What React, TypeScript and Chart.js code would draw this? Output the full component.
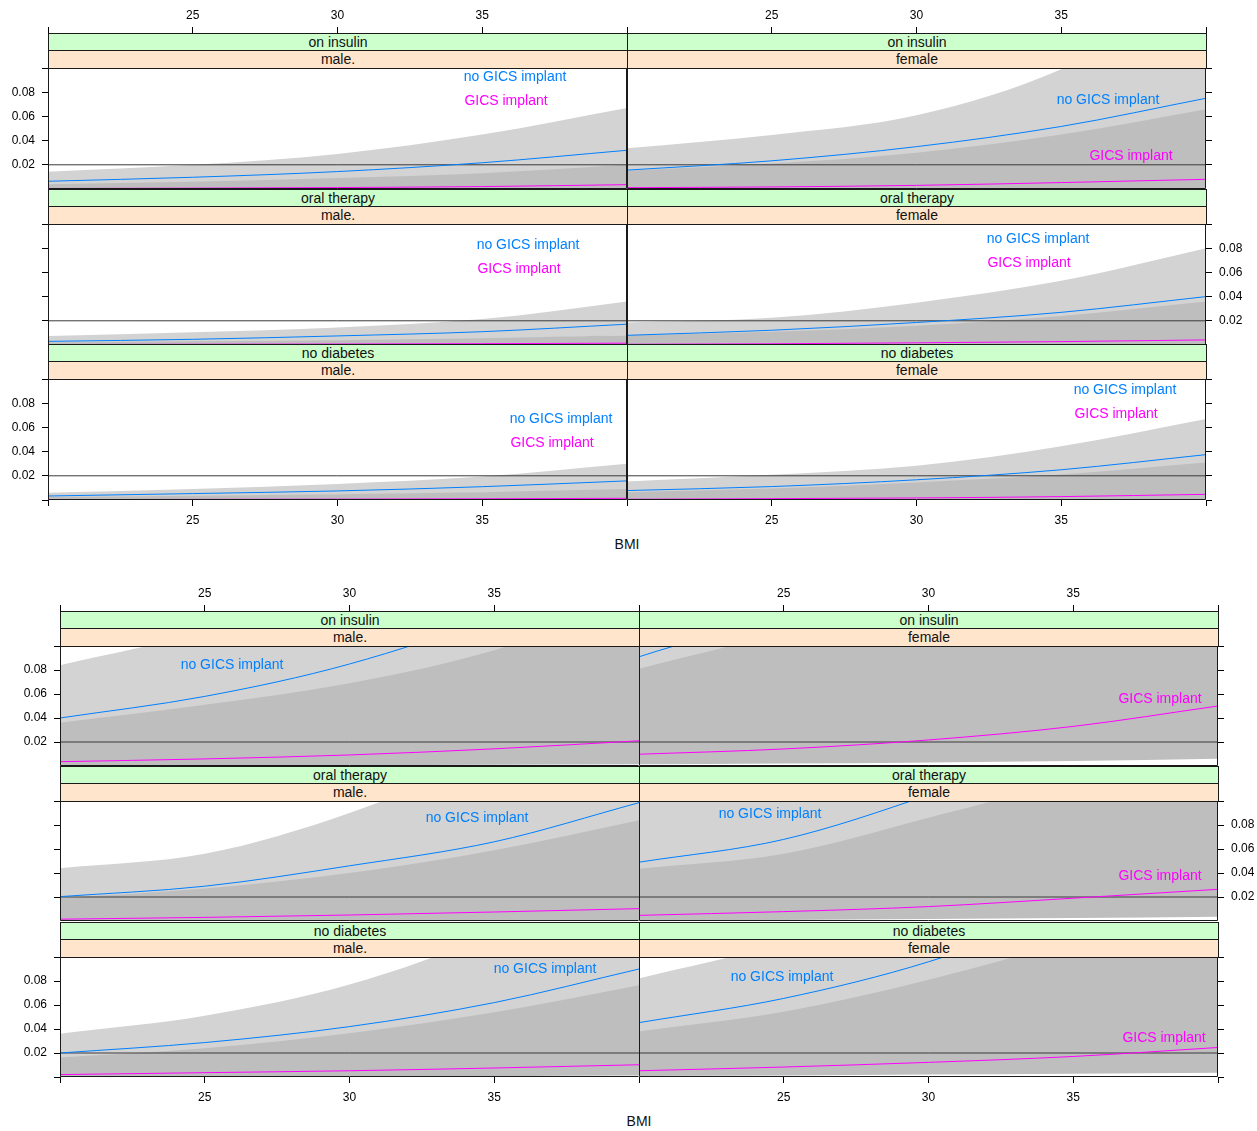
import React, { useEffect, useRef } from 'react';
import { Chart, registerables } from 'chart.js';
Chart.register(...registerables);

// ---------------- data ----------------
const BMI = [20, 25, 30, 35, 40];
const X_TICKS = [20, 25, 30, 35, 40];
const X_LABELLED = [25, 30, 35];
const Y_TICKS = [0, 0.02, 0.04, 0.06, 0.08, 0.1];
const Y_LABELLED = [0.02, 0.04, 0.06, 0.08];
const REF_LEVEL = 0.02;
const X_MIN = 20;
const X_MAX = 40;
const Y_PANEL_MAX = 0.1;
const TREATMENTS = ['on insulin', 'oral therapy', 'no diabetes'];
const SEXES = ['male.', 'female'];
const SERIES = ['no GICS implant', 'GICS implant'];
const X_TITLE = 'BMI';

// top figure
const T_INS_M_NO = [0.0064, 0.0097, 0.0144, 0.0217, 0.032];
const T_INS_M_NO_LO = [0.003, 0.0048, 0.0072, 0.0105, 0.0152];
const T_INS_M_NO_HI = [0.0142, 0.02, 0.029, 0.045, 0.067];
const T_INS_M_G = [0.0004, 0.0007, 0.0012, 0.002, 0.0036];
const T_INS_M_G_LO = [0.0001, 0.0001, 0.0002, 0.0003, 0.0005];
const T_INS_M_G_HI = [0.004, 0.006, 0.009, 0.013, 0.02];

const T_INS_F_NO = [0.0156, 0.0233, 0.035, 0.0517, 0.075];
const T_INS_F_NO_LO = [0.007, 0.011, 0.018, 0.027, 0.034];
const T_INS_F_NO_HI = [0.0336, 0.0447, 0.061, 0.099, 0.165];
const T_INS_F_G = [0.0011, 0.0017, 0.003, 0.0053, 0.008];
const T_INS_F_G_LO = [0.0001, 0.0001, 0.0002, 0.0004, 0.0008];
const T_INS_F_G_HI = [0.015, 0.021, 0.03, 0.045, 0.066];

const T_ORL_M_NO = [0.003, 0.0047, 0.0075, 0.011, 0.0172];
const T_ORL_M_NO_LO = [0.0012, 0.002, 0.0035, 0.005, 0.008];
const T_ORL_M_NO_HI = [0.0075, 0.0105, 0.0145, 0.0214, 0.036];
const T_ORL_M_G = [0.0004, 0.0006, 0.0008, 0.0011, 0.0015];
const T_ORL_M_G_LO = [0.00005, 0.0001, 0.0001, 0.0002, 0.0003];
const T_ORL_M_G_HI = [0.002, 0.003, 0.004, 0.0055, 0.008];

const T_ORL_F_NO = [0.008, 0.0122, 0.0186, 0.027, 0.04];
const T_ORL_F_NO_LO = [0.0035, 0.0065, 0.0098, 0.0137, 0.02];
const T_ORL_F_NO_HI = [0.0186, 0.0225, 0.035, 0.053, 0.08];
const T_ORL_F_G = [0.0006, 0.001, 0.0018, 0.0028, 0.0042];
const T_ORL_F_G_LO = [0.00005, 0.0001, 0.0002, 0.0003, 0.0005];
const T_ORL_F_G_HI = [0.008, 0.011, 0.016, 0.024, 0.036];

const T_NOD_M_NO = [0.0033, 0.0053, 0.0075, 0.011, 0.0158];
const T_NOD_M_NO_LO = [0.0018, 0.003, 0.0043, 0.006, 0.008];
const T_NOD_M_NO_HI = [0.006, 0.009, 0.0133, 0.0194, 0.03];
const T_NOD_M_G = [0.0003, 0.0005, 0.0007, 0.001, 0.0014];
const T_NOD_M_G_LO = [0.00003, 0.00005, 0.0001, 0.00015, 0.0002];
const T_NOD_M_G_HI = [0.0025, 0.0035, 0.0048, 0.0065, 0.009];

const T_NOD_F_NO = [0.0078, 0.0111, 0.0167, 0.025, 0.0375];
const T_NOD_F_NO_LO = [0.004, 0.006, 0.0095, 0.014, 0.021];
const T_NOD_F_NO_HI = [0.0153, 0.0208, 0.0283, 0.0444, 0.067];
const T_NOD_F_G = [0.0006, 0.0011, 0.0017, 0.0028, 0.0047];
const T_NOD_F_G_LO = [0.00005, 0.0001, 0.0002, 0.0003, 0.0005];
const T_NOD_F_G_HI = [0.0065, 0.0095, 0.0145, 0.021, 0.031];

// bottom figure
const B_INS_M_NO = [0.04, 0.058, 0.085, 0.125, 0.18];
const B_INS_M_NO_LO = [0.019, 0.029, 0.045, 0.068, 0.1];
const B_INS_M_NO_HI = [0.084, 0.113, 0.16, 0.23, 0.33];
const B_INS_M_G = [0.0036, 0.0059, 0.0092, 0.0143, 0.021];
const B_INS_M_G_LO = [0.0003, 0.0005, 0.0007, 0.001, 0.0015];
const B_INS_M_G_HI = [0.036, 0.051, 0.069, 0.0965, 0.14];

const B_INS_F_NO = [0.091, 0.13, 0.19, 0.27, 0.38];
const B_INS_F_NO_LO = [0.05, 0.075, 0.11, 0.16, 0.23];
const B_INS_F_NO_HI = [0.16, 0.22, 0.3, 0.42, 0.6];
const B_INS_F_G = [0.0098, 0.0142, 0.0217, 0.033, 0.05];
const B_INS_F_G_LO = [0.0014, 0.002, 0.003, 0.0042, 0.006];
const B_INS_F_G_HI = [0.081, 0.112, 0.15, 0.2, 0.28];

const B_ORL_M_NO = [0.0203, 0.029, 0.046, 0.066, 0.0986];
const B_ORL_M_NO_LO = [0.009, 0.014, 0.023, 0.034, 0.05];
const B_ORL_M_NO_HI = [0.044, 0.056, 0.09, 0.14, 0.2];
const B_ORL_M_G = [0.0015, 0.003, 0.005, 0.0075, 0.0103];
const B_ORL_M_G_LO = [0.0001, 0.0002, 0.0003, 0.0005, 0.0009];
const B_ORL_M_G_HI = [0.019, 0.027, 0.04, 0.059, 0.084];

const B_ORL_F_NO = [0.049, 0.068, 0.105, 0.15, 0.21];
const B_ORL_F_NO_LO = [0.022, 0.031, 0.05, 0.075, 0.1];
const B_ORL_F_NO_HI = [0.11, 0.15, 0.21, 0.3, 0.42];
const B_ORL_F_G = [0.0047, 0.0078, 0.012, 0.019, 0.0264];
const B_ORL_F_G_LO = [0.0005, 0.0009, 0.0017, 0.0025, 0.0036];
const B_ORL_F_G_HI = [0.0435, 0.056, 0.086, 0.12, 0.17];

const B_NOD_M_NO = [0.02, 0.0287, 0.042, 0.062, 0.09];
const B_NOD_M_NO_LO = [0.011, 0.016, 0.023, 0.033, 0.047];
const B_NOD_M_NO_HI = [0.036, 0.051, 0.077, 0.12, 0.18];
const B_NOD_M_G = [0.002, 0.0036, 0.0052, 0.0075, 0.0102];
const B_NOD_M_G_LO = [0.0001, 0.0002, 0.0004, 0.0007, 0.0012];
const B_NOD_M_G_HI = [0.0163, 0.024, 0.0365, 0.054, 0.0765];

const B_NOD_F_NO = [0.0453, 0.0655, 0.096, 0.14, 0.2];
const B_NOD_F_NO_LO = [0.025, 0.038, 0.058, 0.088, 0.13];
const B_NOD_F_NO_HI = [0.082, 0.112, 0.155, 0.22, 0.31];
const B_NOD_F_G = [0.0052, 0.0083, 0.0122, 0.0171, 0.0246];
const B_NOD_F_G_LO = [0.0008, 0.0012, 0.002, 0.0028, 0.0036];
const B_NOD_F_G_HI = [0.038, 0.0544, 0.081, 0.115, 0.16];

// ---------------- styles / layout ----------------
const FONT = "'Liberation Sans', Arial, Helvetica, sans-serif";
const BLUE = '#0080FF';
const MAGENTA = '#FF00FF';
const LIGHT = '#D3D3D3';
const DARK = '#BEBEBE';
const REF_COLOR = '#3a3a3a';
const BOX_COLOR = '#1a1a1a';
const GREEN = '#CCFFCC';
const PEACH = '#FFE5CC';

const FIGS = [
  { colLefts: [48, 627], panelW: 579, rowTops: [33, 189, 344], panelH: 121, titleX: 627, titleY: 544, thickDivider: true },
  { colLefts: [60, 639], panelW: 579, rowTops: [611, 766, 922], panelH: 120, titleX: 639, titleY: 1121, thickDivider: false },
];
const STRIP1 = 17;
const STRIP_H = 35;
const YW = 46;
const XH = 30;

type Lab = { s: number; dx: number; dy: number };

const PANELS = [
  { fig: 0, row: 0, col: 0, no: T_INS_M_NO, noLo: T_INS_M_NO_LO, noHi: T_INS_M_NO_HI, g: T_INS_M_G, gLo: T_INS_M_G_LO, gHi: T_INS_M_G_HI, labels: [{ s: 0, dx: 467, dy: 9 }, { s: 1, dx: 458, dy: 33 }] },
  { fig: 0, row: 0, col: 1, no: T_INS_F_NO, noLo: T_INS_F_NO_LO, noHi: T_INS_F_NO_HI, g: T_INS_F_G, gLo: T_INS_F_G_LO, gHi: T_INS_F_G_HI, labels: [{ s: 0, dx: 481, dy: 32 }, { s: 1, dx: 504, dy: 88 }] },
  { fig: 0, row: 1, col: 0, no: T_ORL_M_NO, noLo: T_ORL_M_NO_LO, noHi: T_ORL_M_NO_HI, g: T_ORL_M_G, gLo: T_ORL_M_G_LO, gHi: T_ORL_M_G_HI, labels: [{ s: 0, dx: 480, dy: 21 }, { s: 1, dx: 471, dy: 45 }] },
  { fig: 0, row: 1, col: 1, no: T_ORL_F_NO, noLo: T_ORL_F_NO_LO, noHi: T_ORL_F_NO_HI, g: T_ORL_F_G, gLo: T_ORL_F_G_LO, gHi: T_ORL_F_G_HI, labels: [{ s: 0, dx: 411, dy: 15 }, { s: 1, dx: 402, dy: 39 }] },
  { fig: 0, row: 2, col: 0, no: T_NOD_M_NO, noLo: T_NOD_M_NO_LO, noHi: T_NOD_M_NO_HI, g: T_NOD_M_G, gLo: T_NOD_M_G_LO, gHi: T_NOD_M_G_HI, labels: [{ s: 0, dx: 513, dy: 40 }, { s: 1, dx: 504, dy: 64 }] },
  { fig: 0, row: 2, col: 1, no: T_NOD_F_NO, noLo: T_NOD_F_NO_LO, noHi: T_NOD_F_NO_HI, g: T_NOD_F_G, gLo: T_NOD_F_G_LO, gHi: T_NOD_F_G_HI, labels: [{ s: 0, dx: 498, dy: 11 }, { s: 1, dx: 489, dy: 35 }] },
  { fig: 1, row: 0, col: 0, no: B_INS_M_NO, noLo: B_INS_M_NO_LO, noHi: B_INS_M_NO_HI, g: B_INS_M_G, gLo: B_INS_M_G_LO, gHi: B_INS_M_G_HI, labels: [{ s: 0, dx: 172, dy: 19 }] },
  { fig: 1, row: 0, col: 1, no: B_INS_F_NO, noLo: B_INS_F_NO_LO, noHi: B_INS_F_NO_HI, g: B_INS_F_G, gLo: B_INS_F_G_LO, gHi: B_INS_F_G_HI, labels: [{ s: 1, dx: 521, dy: 53 }] },
  { fig: 1, row: 1, col: 0, no: B_ORL_M_NO, noLo: B_ORL_M_NO_LO, noHi: B_ORL_M_NO_HI, g: B_ORL_M_G, gLo: B_ORL_M_G_LO, gHi: B_ORL_M_G_HI, labels: [{ s: 0, dx: 417, dy: 17 }] },
  { fig: 1, row: 1, col: 1, no: B_ORL_F_NO, noLo: B_ORL_F_NO_LO, noHi: B_ORL_F_NO_HI, g: B_ORL_F_G, gLo: B_ORL_F_G_LO, gHi: B_ORL_F_G_HI, labels: [{ s: 0, dx: 131, dy: 13 }, { s: 1, dx: 521, dy: 75 }] },
  { fig: 1, row: 2, col: 0, no: B_NOD_M_NO, noLo: B_NOD_M_NO_LO, noHi: B_NOD_M_NO_HI, g: B_NOD_M_G, gLo: B_NOD_M_G_LO, gHi: B_NOD_M_G_HI, labels: [{ s: 0, dx: 485, dy: 12 }] },
  { fig: 1, row: 2, col: 1, no: B_NOD_F_NO, noLo: B_NOD_F_NO_LO, noHi: B_NOD_F_NO_HI, g: B_NOD_F_G, gLo: B_NOD_F_G_LO, gHi: B_NOD_F_G_HI, labels: [{ s: 0, dx: 143, dy: 20 }, { s: 1, dx: 525, dy: 81 }] },
];

const pts = (arr: number[]) => BMI.map((x, i) => ({ x, y: arr[i] }));
const near = (list: number[], v: number) => list.some((t) => Math.abs(t - v) < 1e-9);
const zeroPad = (s: any) => {
  s.paddingTop = 0;
  s.paddingBottom = 0;
  s.paddingLeft = 0;
  s.paddingRight = 0;
};

function Panel({ p }: { p: any }) {
  const ref = useRef<HTMLCanvasElement | null>(null);
  const f = FIGS[p.fig];
  const showLeft = p.col === 0;
  const showRight = p.col === 1;
  const showTop = p.row === 0;
  const showBottom = p.row === 2;
  const left = f.colLefts[p.col] - (showLeft ? YW : 0);
  const topPad = showTop ? XH : 0;
  const botPad = showBottom ? XH : 0;
  const top = f.rowTops[p.row] - topPad;
  const width = f.panelW + YW;
  const height = topPad + STRIP_H + f.panelH + botPad;
  const yMax = (Y_PANEL_MAX * (STRIP_H + f.panelH)) / f.panelH;
  const drawRightEdge = !(p.col === 0 && !f.thickDivider);

  useEffect(() => {
    if (!ref.current) return;
    const tickFont = { family: FONT, size: 12 };
    const grid = { drawOnChartArea: false, drawTicks: true, tickLength: 6, color: '#000' };
    const xAxis = (pos: 'top' | 'bottom', show: boolean) => ({
      type: 'linear' as const,
      position: pos,
      min: X_MIN,
      max: X_MAX,
      display: show,
      afterFit: (s: any) => { s.height = show ? XH : 0; zeroPad(s); },
      afterBuildTicks: (s: any) => { s.ticks = X_TICKS.map((v) => ({ value: v })); },
      ticks: {
        autoSkip: false,
        maxRotation: 0,
        padding: pos === 'top' ? 4 : 7,
        color: '#000',
        font: tickFont,
        callback: (v: any) => (near(X_LABELLED, Number(v)) ? String(v) : ''),
      },
      grid,
      border: { display: false },
    });
    const yAxis = (pos: 'left' | 'right', show: boolean, labelled: boolean) => ({
      type: 'linear' as const,
      position: pos,
      min: 0,
      max: yMax,
      display: show,
      afterFit: (s: any) => { s.width = show ? YW : 0; zeroPad(s); },
      afterBuildTicks: (s: any) => { s.ticks = Y_TICKS.map((v) => ({ value: v })); },
      ticks: {
        autoSkip: false,
        padding: 7,
        color: '#000',
        font: tickFont,
        callback: (v: any) => (labelled && near(Y_LABELLED, Number(v)) ? Number(v).toFixed(2) : ''),
      },
      grid,
      border: { display: false },
    });
    const hidden = { borderColor: 'rgba(0,0,0,0)', borderWidth: 0, pointRadius: 0, cubicInterpolationMode: 'monotone' as const };
    const decor = {
      id: 'decor',
      afterDatasetsDraw(chart: any) {
        const { ctx, chartArea: a } = chart;
        const pTop = a.top + STRIP_H;
        ctx.save();
        ctx.font = `14px ${FONT}`;
        ctx.textAlign = 'center';
        ctx.textBaseline = 'middle';
        (p.labels as Lab[]).forEach((l) => {
          ctx.fillStyle = l.s === 0 ? BLUE : MAGENTA;
          ctx.fillText(SERIES[l.s], a.left + l.dx, pTop + l.dy);
        });
        ctx.strokeStyle = BOX_COLOR;
        ctx.lineWidth = 1;
        const L = a.left + 0.5;
        const R = a.right - 0.5;
        const T = pTop + 0.5;
        const B = a.bottom - 0.5;
        ctx.beginPath();
        ctx.moveTo(L, T);
        ctx.lineTo(R, T);
        ctx.moveTo(L, B);
        ctx.lineTo(R, B);
        ctx.moveTo(L, T);
        ctx.lineTo(L, B);
        if (drawRightEdge) {
          ctx.moveTo(R, T);
          ctx.lineTo(R, B);
        }
        ctx.stroke();
        ctx.restore();
      },
    };
    const chart = new Chart(ref.current, {
      type: 'line',
      data: {
        datasets: [
          { label: 'no GICS upper', data: pts(p.noHi), fill: '+1', backgroundColor: LIGHT, order: 10, ...hidden },
          { label: 'no GICS lower', data: pts(p.noLo), fill: false, order: 10, ...hidden },
          { label: 'GICS upper', data: pts(p.gHi), fill: '+1', backgroundColor: DARK, order: 9, ...hidden },
          { label: 'GICS lower', data: pts(p.gLo), fill: false, order: 9, ...hidden },
          { label: 'reference', data: [{ x: X_MIN, y: REF_LEVEL }, { x: X_MAX, y: REF_LEVEL }], borderColor: REF_COLOR, borderWidth: 1, pointRadius: 0, fill: false, order: 3 },
          { label: SERIES[0], data: pts(p.no), borderColor: BLUE, borderWidth: 1, pointRadius: 0, fill: false, order: 2, cubicInterpolationMode: 'monotone' },
          { label: SERIES[1], data: pts(p.g), borderColor: MAGENTA, borderWidth: 1, pointRadius: 0, fill: false, order: 1, cubicInterpolationMode: 'monotone' },
        ],
      },
      options: {
        responsive: false,
        maintainAspectRatio: false,
        animation: false,
        events: [],
        layout: { padding: 0, autoPadding: false },
        plugins: { legend: { display: false }, tooltip: { enabled: false }, title: { display: false } },
        scales: {
          x: xAxis('bottom', showBottom),
          x2: xAxis('top', showTop),
          y: yAxis('left', showLeft, p.row !== 1),
          y2: yAxis('right', showRight, p.row === 1),
        },
      } as any,
      plugins: [decor],
    });
    return () => chart.destroy();
  }, []);

  return (
    <canvas
      ref={ref}
      width={width}
      height={height}
      style={{ position: 'absolute', left, top, width, height }}
    />
  );
}

function Strips({ p }: { p: any }) {
  const f = FIGS[p.fig];
  const left = f.colLefts[p.col];
  const top = f.rowTops[p.row];
  const base: React.CSSProperties = {
    position: 'absolute',
    left,
    width: f.panelW + 1,
    boxSizing: 'border-box',
    border: `1px solid ${BOX_COLOR}`,
    textAlign: 'center',
    fontSize: 14,
    color: '#111',
    whiteSpace: 'nowrap',
    zIndex: 2,
  };
  return (
    <>
      <div style={{ ...base, top, height: STRIP1 + 1, lineHeight: `${STRIP1 - 1}px`, background: GREEN }}>{TREATMENTS[p.row]}</div>
      <div style={{ ...base, top: top + STRIP1, height: STRIP_H - STRIP1 + 1, lineHeight: `${STRIP_H - STRIP1 - 1}px`, background: PEACH }}>{SEXES[p.col]}</div>
    </>
  );
}

export default function App() {
  return (
    <div
      style={{
        position: 'absolute',
        left: 0,
        top: 0,
        width: 1257,
        height: 1131,
        overflow: 'hidden',
        background: '#fff',
        fontFamily: FONT,
      }}
    >
      {PANELS.map((p, i) => (
        <Panel key={`c${i}`} p={p} />
      ))}
      {PANELS.map((p, i) => (
        <Strips key={`s${i}`} p={p} />
      ))}
      {FIGS.map((f, i) => (
        <div
          key={`t${i}`}
          style={{
            position: 'absolute',
            left: f.titleX - 40,
            width: 80,
            top: f.titleY - 9,
            height: 18,
            lineHeight: '18px',
            textAlign: 'center',
            fontSize: 14,
            color: '#111',
          }}
        >
          {X_TITLE}
        </div>
      ))}
    </div>
  );
}
